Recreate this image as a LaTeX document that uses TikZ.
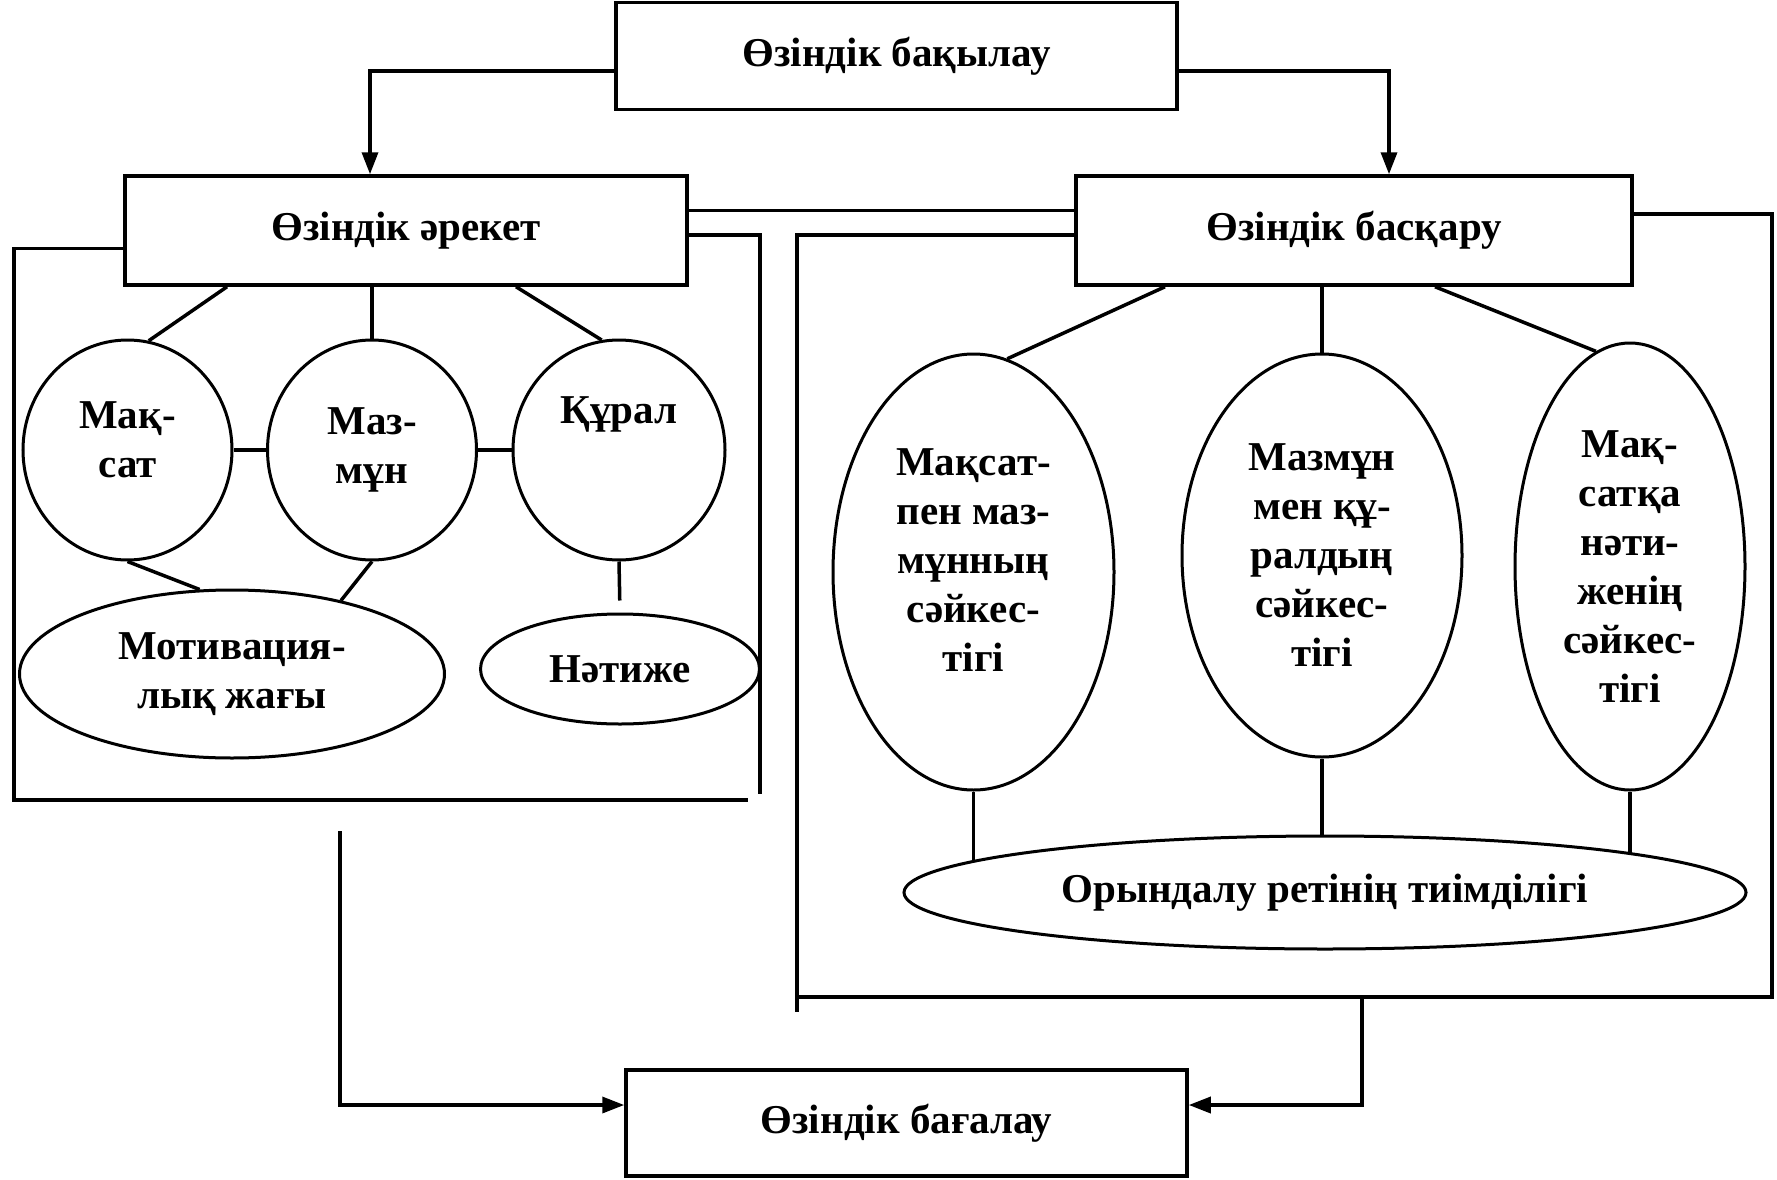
\documentclass[tikz,border=0pt]{standalone}
\usepackage{fontspec}
\setmainfont{Liberation Serif}
\usetikzlibrary{shapes.geometric,arrows.meta,calc}
\begin{document}
\begin{tikzpicture}[x=1pt,y=-1pt,
  every node/.style={font=\fontsize{41}{49}\selectfont\bfseries},
  box/.style={draw, line width=3.5pt, rectangle, inner sep=0pt},
  oval/.style={draw, line width=3pt, ellipse, inner sep=0pt, align=center},
  ln/.style={line width=3.5pt},
  arr/.style={line width=3.5pt, -{Triangle[length=22pt,width=16pt]}},
]
\useasboundingbox[fill=white] (0,0) rectangle (1777,1180);

% boxes
\node[box, minimum width=561pt, minimum height=107pt] (top) at (896.5,56) {Өзіндік бақылау};
\node[box, minimum width=562pt, minimum height=109pt] (act) at (406,230.5) {Өзіндік әрекет};
\node[box, minimum width=556pt, minimum height=109pt] (ctrl) at (1354,230.5) {Өзіндік басқару};
\node[box, minimum width=561pt, minimum height=106pt] (eval) at (906.5,1123) {Өзіндік бағалау};

% left group
\node[oval, minimum width=209pt, minimum height=220pt] (c1) at (127.5,450) {Мақ-\\сат\\[-29pt]\mbox{}};
\node[oval, minimum width=209pt, minimum height=220pt] (c2) at (372,450) {Маз-\\мұн\\[-41pt]\mbox{}};
\node[oval, minimum width=212pt, minimum height=220pt] (c3) at (619,450) {Құрал\\[30pt]\mbox{}};
\node[oval, minimum width=425pt, minimum height=168pt] (mot) at (232,674) {Мотивация-\\лық жағы};
\node[oval, minimum width=279pt, minimum height=110pt] (nat) at (620,669) {Нәтиже};

% right group
\node[oval, minimum width=281pt, minimum height=436pt] (o1) at (973.5,572) {Мақсат-\\пен маз-\\мұнның\\сәйкес-\\тігі\\[-25pt]\mbox{}};
\node[oval, minimum width=280pt, minimum height=403pt] (o2) at (1322,555.5) {Мазмұн\\мен құ-\\ралдың\\сәйкес-\\тігі};
\node[oval, minimum width=230pt, minimum height=447pt] (o3) at (1630,566.5) {Мақ-\\сатқа\\нәти-\\женің\\сәйкес-\\тігі};
\node[oval, minimum width=842pt, minimum height=113pt] (ory) at (1325,892.5) {Орындалу ретінің тиімділігі};

% top arrows
\draw[arr] ([yshift=-15pt]top.west) -| ([xshift=-36pt]act.north);
\draw[arr] ([yshift=-15pt]top.east) -| ([xshift=35pt]ctrl.north);
\draw[ln] ([yshift=20pt]act.east) -- ([yshift=20pt]ctrl.west);

% left frame
\coordinate (lfbl) at (14,800);
\coordinate (lfbr) at (748,800);
\coordinate (lfre) at (760,794);
\draw[ln] ([yshift=-18pt]act.west) -| (lfbl) -- (lfbr);
\draw[ln] ([yshift=-4.5pt]act.east) -| (lfre);

% right frame
\coordinate (rfl) at (797,1012);
\coordinate (rfr) at (1772,997);
\coordinate (rfbl) at (799,997);
\coordinate (rfm) at (1362,997);
\draw[ln] ([yshift=-4.5pt]ctrl.west) -| (rfl);
\draw[ln] ([yshift=16.5pt]ctrl.east) -| (rfr) -- (rfbl);

% bottom arrows
\coordinate (ls) at (340,831);
\draw[arr] (ls) |- ([yshift=18pt]eval.west);
\draw[arr] (rfm) |- ([yshift=18pt]eval.east);

% left tree
\draw[ln] ([xshift=-179pt]act.south) -- (c1.79);
\draw[ln] (c2.north |- act.south) -- (c2.north);
\draw[ln] ([xshift=110pt]act.south) -- (c3.99);
\draw[ln] (c1.east) -- (c2.west);
\draw[ln] (c2.east) -- (c3.west);
\draw[ln] (c1.south) -- (mot.111);
\draw[ln] (c2.south) -- (mot.34);
\draw[ln, shorten >=12pt] (c3.south) -- (nat.north);

% right tree
\draw[ln] ([xshift=-189pt]ctrl.south) -- (o1.81);
\draw[ln] (o2.north |- ctrl.south) -- (o2.north);
\draw[ln] ([xshift=81pt]ctrl.south) -- (o3.99);
\draw[ln] (o1.south) -- (o1.south |- ory.175);
\draw[ln] (o2.south) -- (o2.south |- ory.north);
\draw[ln] (o3.south) -- (o3.south |- ory.7);
\end{tikzpicture}
\end{document}
